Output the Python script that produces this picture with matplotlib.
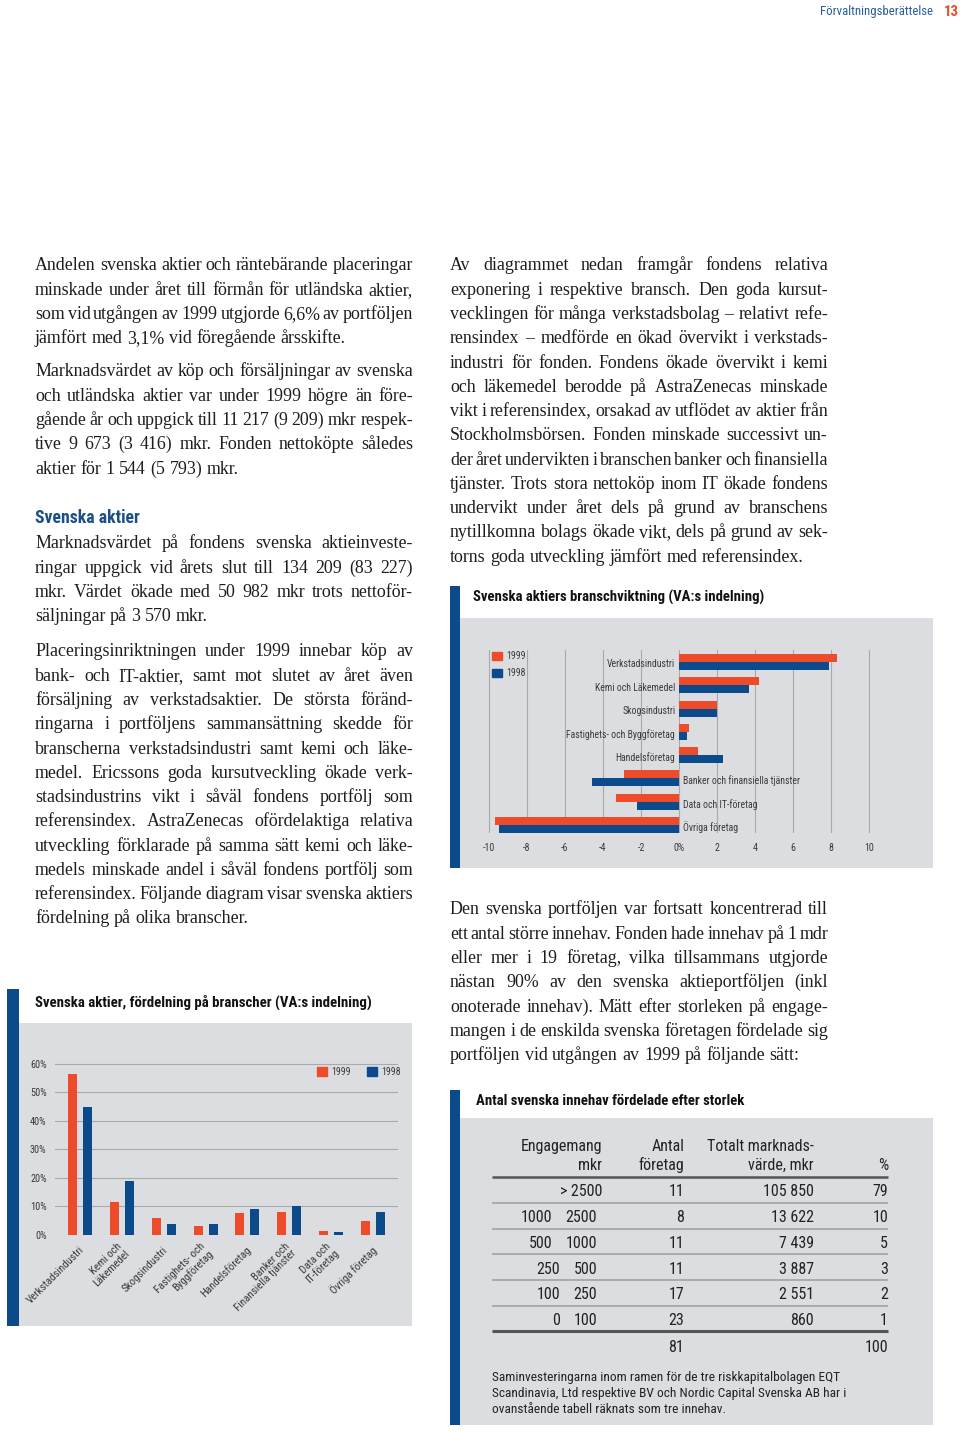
import matplotlib
matplotlib.use('Agg')
import matplotlib.pyplot as plt
from matplotlib import font_manager
from matplotlib.patches import Rectangle, Patch
from matplotlib.lines import Line2D
import numpy as np

# ---------------- DATA ----------------
# Chart 1: Svenska aktier, fördelning på branscher (%)
bransch_labels = ["Verkstadsindustri", "Kemi och\nLäkemedel", "Skogsindustri",
                  "Fastighets- och\nByggföretag", "Handelsföretag",
                  "Banker och\nFinansiella tjänster", "Data och\nIT-företag", "Övriga företag"]
andel_1999 = [56.5, 11.5, 6.0, 3.3, 7.8, 8.2, 1.3, 4.8]
andel_1998 = [45.0, 19.0, 4.0, 4.0, 9.0, 10.0, 1.0, 8.0]
andel_ticks = [0, 10, 20, 30, 40, 50, 60]

# Chart 2: Svenska aktiers branschviktning (relative to index, %-points)
vikt_labels = ["Verkstadsindustri", "Kemi och Läkemedel", "Skogsindustri",
               "Fastighets- och Byggföretag", "Handelsföretag",
               "Banker och finansiella tjänster", "Data och IT-företag", "Övriga företag"]
vikt_1999 = [8.3, 4.2, 2.0, 0.5, 1.0, -2.9, -3.3, -9.7]
vikt_1998 = [7.9, 3.7, 2.0, 0.4, 2.3, -4.6, -2.2, -9.5]
vikt_ticks = [-10, -8, -6, -4, -2, 0, 2, 4, 6, 8, 10]
vikt_ticklabels = ["-10", "-8", "-6", "-4", "-2", "0%", "2", "4", "6", "8", "10"]

# Table: Antal svenska innehav fördelade efter storlek
eng_low = ["", "1000", "500", "250", "100", "0"]
eng_high = ["> 2500", "2500", "1000", "500", "250", "100"]
antal = ["11", "8", "11", "11", "17", "23"]
varde = ["105 850", "13 622", "7 439", "3 887", "2 551", "860"]
procent = ["79", "10", "5", "3", "2", "1"]
antal_total = "81"
procent_total = "100"

# ---------------- STYLE / LAYOUT ----------------
W, H = 960, 1432
ORANGE = "#ee4b2b"
BLUE = "#0b4a8b"
PANEL = "#dcdde0"
GRID = "#a9a9ab"
TXT = "#1e1e1e"
LBL = "#3a3a3a"

names = {f.name for f in font_manager.fontManager.ttflist}
NARROW = next((n for n in ["Liberation Sans Narrow", "Roboto Condensed", "Liberation Sans"] if n in names), "DejaVu Sans")
SERIF = "Liberation Serif" if "Liberation Serif" in names else "DejaVu Serif"

fig = plt.figure(figsize=(W / 100, H / 100), dpi=100)
fig.patch.set_facecolor("white")
renderer = fig.canvas.get_renderer()


def fx(x):
    return x / W


def fy(y):
    return 1 - y / H


def ptext(x, y, s, **kw):
    kw.setdefault("va", "baseline")
    return fig.text(fx(x), fy(y), s, **kw)


def add_axes_px(x0, y0, x1, y1):
    ax = fig.add_axes([fx(x0), fy(y1), (x1 - x0) / W, (y1 - y0) / H])
    ax.set_facecolor("none")
    return ax


def rect_px(x0, y0, x1, y1, color):
    fig.patches.append(Rectangle((fx(x0), fy(y1)), (x1 - x0) / W, (y1 - y0) / H,
                                 transform=fig.transFigure, facecolor=color,
                                 edgecolor="none", zorder=-5))


def hline_px(x0, x1, y, lw, color):
    fig.add_artist(Line2D([fx(x0), fx(x1)], [fy(y), fy(y)], transform=fig.transFigure,
                          lw=lw, color=color, solid_capstyle="butt"))


def width_of(t):
    return t.get_window_extent(renderer).width


def measure(s, fs, family, **kw):
    t = ptext(0, 0, s, fontsize=fs, family=family, **kw)
    w = width_of(t)
    t.remove()
    return w


def fit_text(x, y, s, width, base=12, **kw):
    t = ptext(x, y, s, fontsize=base, **kw)
    w = width_of(t)
    t.set_fontsize(base * width / w)
    return t


LX0, LX1 = 35, 413
RX0, RX1 = 450, 828
STEP = 24.27

paragraphs = [
    (LX0, LX1, 270.5, [
        "Andelen svenska aktier och räntebärande placeringar",
        "minskade under året till förmån för utländska aktier,",
        "som vid utgången av 1999 utgjorde 6,6% av portföljen",
        "jämfört med 3,1% vid föregående årsskifte.",
    ]),
    (LX0, LX1, 376.5, [
        "Marknadsvärdet av köp och försäljningar av svenska",
        "och utländska aktier var under 1999 högre än före-",
        "gående år och uppgick till 11 217 (9 209) mkr respek-",
        "tive 9 673 (3 416) mkr. Fonden nettoköpte således",
        "aktier för 1 544 (5 793) mkr.",
    ]),
    (LX0, LX1, 548.5, [
        "Marknadsvärdet på fondens svenska aktieinveste-",
        "ringar uppgick vid årets slut till 134 209 (83 227)",
        "mkr. Värdet ökade med 50 982 mkr trots nettoför-",
        "säljningar på 3 570 mkr.",
    ]),
    (LX0, LX1, 656.5, [
        "Placeringsinriktningen under 1999 innebar köp av",
        "bank- och IT-aktier, samt mot slutet av året även",
        "försäljning av verkstadsaktier. De största föränd-",
        "ringarna i portföljens sammansättning skedde för",
        "branscherna verkstadsindustri samt kemi och läke-",
        "medel. Ericssons goda kursutveckling ökade verk-",
        "stadsindustrins vikt i såväl fondens portfölj som",
        "referensindex. AstraZenecas ofördelaktiga relativa",
        "utveckling förklarade på samma sätt kemi och läke-",
        "medels minskade andel i såväl fondens portfölj som",
        "referensindex. Följande diagram visar svenska aktiers",
        "fördelning på olika branscher.",
    ]),
    (RX0, RX1, 270.5, [
        "Av diagrammet nedan framgår fondens relativa",
        "exponering i respektive bransch. Den goda kursut-",
        "vecklingen för många verkstadsbolag – relativt refe-",
        "rensindex – medförde en ökad övervikt i verkstads-",
        "industri för fonden. Fondens ökade övervikt i kemi",
        "och läkemedel berodde på AstraZenecas minskade",
        "vikt i referensindex, orsakad av utflödet av aktier från",
        "Stockholmsbörsen. Fonden minskade successivt un-",
        "der året undervikten i branschen banker och finansiella",
        "tjänster. Trots stora nettoköp inom IT ökade fondens",
        "undervikt under året dels på grund av branschens",
        "nytillkomna bolags ökade vikt, dels på grund av sek-",
        "torns goda utveckling jämfört med referensindex.",
    ]),
    (RX0, RX1, 914.5, [
        "Den svenska portföljen var fortsatt koncentrerad till",
        "ett antal större innehav. Fonden hade innehav på 1 mdr",
        "eller mer i 19 företag, vilka tillsammans utgjorde",
        "nästan 90% av den svenska aktieportföljen (inkl",
        "onoterade innehav). Mätt efter storleken på engage-",
        "mangen i de enskilda svenska företagen fördelade sig",
        "portföljen vid utgången av 1999 på följande sätt:",
    ]),
]

# choose body font size so the tightest justified line fits (slightly tight spacing allowed)
BASE = 13.0
ratio = 10.0
for x0, x1, y0, lines in paragraphs:
    for ln in lines[:-1]:
        ratio = min(ratio, (x1 - x0) / measure(ln, BASE, SERIF))
BODY_FS = BASE * min(ratio * 1.04, 1.2)
SP = measure("a a", BODY_FS, SERIF) - measure("aa", BODY_FS, SERIF)


def draw_line(x0, x1, y, text, justify):
    words = text.split(" ")
    arts = [ptext(x0, y, w, fontsize=BODY_FS, family=SERIF, color=TXT, ha="left") for w in words]
    widths = [width_of(a) for a in arts]
    if justify and len(words) > 1:
        gap = max((x1 - x0 - sum(widths)) / (len(words) - 1), 1.5)
    else:
        gap = SP
    x = x0
    for a, w in zip(arts, widths):
        a.set_position((fx(x), fy(y)))
        x += w + gap


for x0, x1, y0, lines in paragraphs:
    for i, ln in enumerate(lines):
        draw_line(x0, x1, y0 + i * STEP, ln, justify=(i < len(lines) - 1))

# ---------------- PAGE HEADER ----------------
fit_text(933, 15, "Förvaltningsberättelse", 112, base=10, family=NARROW, color="#2b5e9e", ha="right")
fit_text(944, 16, "13", 15, base=12, family=NARROW, color=ORANGE, weight="bold", ha="left")

fit_text(35, 523, "Svenska aktier", 106, base=14, family=NARROW, weight="bold", color="#1c4f86")

# ---------------- CHART 1 ----------------
rect_px(7, 989, 19, 1326, BLUE)
rect_px(19, 1023, 412, 1326, PANEL)
fit_text(35, 1007, "Svenska aktier, fördelning på branscher (VA:s indelning)", 338,
         base=12, family=NARROW, weight="bold", color="#111111")

ax1 = add_axes_px(55, 1060, 398, 1235)
x = np.arange(len(bransch_labels))
ax1.bar(x - 0.18, andel_1999, width=0.215, color=ORANGE, zorder=3, label="1999")
ax1.bar(x + 0.18, andel_1998, width=0.215, color=BLUE, zorder=3, label="1998")
ax1.set_xlim(-0.6, 7.6)
ax1.set_ylim(0, 61.4)
ax1.set_yticks(andel_ticks)
ax1.set_yticklabels([f"{t}%" for t in andel_ticks], fontsize=7.4, family=NARROW, color=LBL)
ax1.yaxis.grid(True, color=GRID, lw=0.8, zorder=0)
ax1.tick_params(axis="y", length=0, pad=6)
ax1.set_xticks([])
for s in ax1.spines.values():
    s.set_visible(False)
for i, lab in enumerate(bransch_labels):
    ax1.text(i + 0.05, -4.6, lab, rotation=45, ha="right", va="center",
             rotation_mode="anchor", multialignment="right", fontsize=7.8,
             family=NARROW, color=LBL, clip_on=False, linespacing=1.0)
ax1.legend(handles=[Patch(color=ORANGE, label="1999"), Patch(color=BLUE, label="1998")],
           ncol=2, frameon=False, loc="upper right", bbox_to_anchor=(fx(401), fy(1067)),
           bbox_transform=fig.transFigure, prop={"family": NARROW, "size": 7.2},
           handlelength=1.0, handleheight=0.9, handletextpad=0.45, columnspacing=1.6,
           borderaxespad=0, borderpad=0, labelcolor=LBL)

# ---------------- CHART 2 ----------------
rect_px(450, 586, 460, 868, BLUE)
rect_px(460, 618, 933, 868, PANEL)
fit_text(473, 602, "Svenska aktiers branschviktning (VA:s indelning)", 293,
         base=12, family=NARROW, weight="bold", color="#111111")

ax2 = add_axes_px(470, 650, 920, 833)
yy = np.arange(len(vikt_labels))
ax2.barh(yy - 0.172, vikt_1999, height=0.343, color=ORANGE, zorder=3, label="1999")
ax2.barh(yy + 0.172, vikt_1998, height=0.343, color=BLUE, zorder=3, label="1998")
ax2.set_xlim((470 - 679) / 19, (920 - 679) / 19)
ax2.set_ylim(7.34, -0.515)
ax2.set_xticks(vikt_ticks)
ax2.set_xticklabels(vikt_ticklabels, fontsize=7.2, family=NARROW, color=LBL)
ax2.xaxis.grid(True, color=GRID, lw=0.8, zorder=0)
ax2.tick_params(axis="x", length=0, pad=7)
ax2.set_yticks([])
for s in ax2.spines.values():
    s.set_visible(False)
for i, lab in enumerate(vikt_labels):
    if vikt_1999[i] >= 0:
        ax2.text(-0.2, i + 0.1, lab, ha="right", va="center", fontsize=7.0,
                 family=NARROW, color=LBL)
    else:
        ax2.text(0.22, i + 0.1, lab, ha="left", va="center", fontsize=7.0,
                 family=NARROW, color=LBL)
ax2.legend(handles=[Patch(color=ORANGE, label="1999"), Patch(color=BLUE, label="1998")],
           ncol=1, frameon=False, loc="upper left", bbox_to_anchor=(fx(492), fy(651)),
           bbox_transform=fig.transFigure, prop={"family": NARROW, "size": 7},
           handlelength=1.0, handleheight=0.85, handletextpad=0.45, labelspacing=0.75,
           borderaxespad=0, borderpad=0, labelcolor=LBL)

# ---------------- TABLE ----------------
rect_px(450, 1090, 460, 1425, BLUE)
rect_px(460, 1118, 933, 1425, PANEL)
fit_text(476, 1105, "Antal svenska innehav fördelade efter storlek", 270,
         base=12, family=NARROW, weight="bold", color="#111111")

TFS = 11.5
tkw = dict(fontsize=TFS, family=NARROW, color="#222222")
C_ENG, C_ENGL, C_ENGH, C_ANT, C_VAR, C_PCT = 602, 552, 597, 684, 814, 888
ptext(C_ENG, 1151, "Engagemang", ha="right", **tkw)
ptext(C_ENG, 1170, "mkr", ha="right", **tkw)
ptext(C_ANT, 1151, "Antal", ha="right", **tkw)
ptext(C_ANT, 1170, "företag", ha="right", **tkw)
ptext(C_VAR, 1151, "Totalt marknads-", ha="right", **tkw)
ptext(C_VAR, 1170, "värde, mkr", ha="right", **tkw)
ptext(C_PCT, 1170, "%", ha="right", **tkw)

hline_px(492, 888, 1176.5, 1.8, "#555555")
row_y = [1196, 1222, 1248, 1273.5, 1299, 1325]
sep_y = [1202.5, 1228.5, 1254, 1280, 1305.5]
for y in sep_y:
    hline_px(492, 888, y, 1.1, "#9c9c9e")
hline_px(492, 888, 1331, 2.2, "#555555")
for i, y in enumerate(row_y):
    if eng_low[i]:
        low_x = C_ENGL if len(eng_low[i]) >= 3 and len(eng_high[i]) >= 4 else 560
        ptext(low_x, y, eng_low[i], ha="right", **tkw)
        ptext(C_ENGH, y, eng_high[i], ha="right", **tkw)
    else:
        ptext(C_ENG, y, eng_high[i], ha="right", **tkw)
    ptext(C_ANT, y, antal[i], ha="right", **tkw)
    ptext(C_VAR, y, varde[i], ha="right", **tkw)
    ptext(C_PCT, y, procent[i], ha="right", **tkw)
ptext(C_ANT, 1352, antal_total, ha="right", **tkw)
ptext(C_PCT, 1352, procent_total, ha="right", **tkw)

foot = ["Saminvesteringarna inom ramen för de tre riskkapitalbolagen EQT",
        "Scandinavia, Ltd respektive BV och Nordic Capital Svenska AB har i",
        "ovanstående tabell räknats som tre innehav."]
ft = fit_text(492, 1381, foot[0], 348, base=9, family=NARROW, color="#222222")
for k, ln in enumerate(foot[1:], start=1):
    ptext(492, 1381 + 16 * k, ln, fontsize=ft.get_fontsize(), family=NARROW, color="#222222")

fig.savefig("out.png", dpi=100, facecolor="white")
